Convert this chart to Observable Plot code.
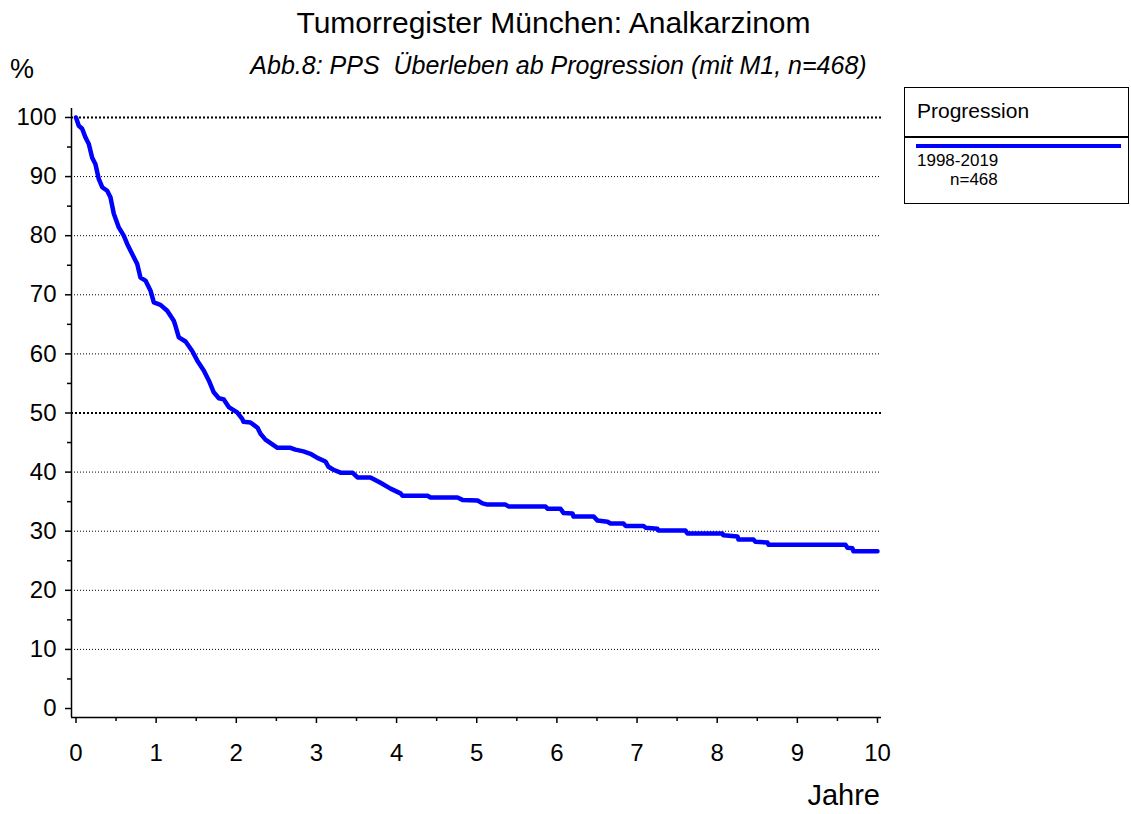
<!DOCTYPE html>
<html>
<head>
<meta charset="utf-8">
<script src="https://cdn.jsdelivr.net/npm/d3@7"></script>
<script src="https://cdn.jsdelivr.net/npm/@observablehq/plot@0.6"></script>
<style>
  html, body { margin: 0; padding: 0; background: #fff; }
  #wrap { position: relative; width: 1131px; height: 814px; font-family: "Liberation Sans", Arial, sans-serif; color: #000; overflow: hidden; }
  #wrap svg { position: absolute; left: 0; top: 0; }
  .t { position: absolute; white-space: pre; line-height: 1; }
  #legend { position: absolute; left: 904px; top: 87px; width: 225px; height: 117px; border: 1.5px solid #000; box-sizing: border-box; }
</style>
</head>
<body>
<div id="wrap"></div>
<script>
// Kaplan-Meier curve (years since progression, % surviving)
const years = [0, 0.035, 0.077, 0.119, 0.16, 0.202, 0.243, 0.284, 0.327, 0.389, 0.43, 0.472, 0.534, 0.596, 0.639, 0.701, 0.764, 0.805, 0.867, 0.93, 0.971, 1.054, 1.138, 1.22, 1.24, 1.283, 1.367, 1.45, 1.512, 1.594, 1.657, 1.719, 1.782, 1.844, 1.906, 2.011, 2.074, 2.09, 2.177, 2.265, 2.302, 2.364, 2.514, 2.676, 2.738, 2.838, 2.925, 3.012, 3.112, 3.15, 3.212, 3.3, 3.45, 3.512, 3.674, 3.799, 3.924, 4.049, 4.074, 4.386, 4.423, 4.76, 4.822, 5.01, 5.072, 5.134, 5.359, 5.396, 5.858, 5.883, 6.045, 6.082, 6.195, 6.207, 6.457, 6.507, 6.632, 6.669, 6.831, 6.856, 7.081, 7.106, 7.255, 7.268, 7.604, 7.629, 8.066, 8.078, 8.253, 8.265, 8.452, 8.477, 8.627, 8.64, 9.6, 9.625, 9.688, 9.7, 10];
const survival = [100, 98.6, 98.1, 96.6, 95.5, 93.2, 92.1, 89.6, 88.2, 87.6, 86.5, 83.7, 81.4, 80.0, 78.6, 76.9, 75.2, 72.9, 72.4, 70.7, 68.7, 68.3, 67.3, 65.6, 64.8, 62.8, 62.1, 60.5, 58.9, 57.2, 55.5, 53.5, 52.5, 52.3, 51.0, 50.1, 49.0, 48.5, 48.4, 47.5, 46.5, 45.5, 44.1, 44.1, 43.8, 43.5, 43.1, 42.4, 41.8, 40.9, 40.4, 39.9, 39.9, 39.1, 39.1, 38.2, 37.2, 36.4, 36.0, 36.0, 35.7, 35.7, 35.3, 35.2, 34.7, 34.5, 34.5, 34.2, 34.2, 33.8, 33.8, 33.1, 33.0, 32.5, 32.5, 31.8, 31.6, 31.3, 31.3, 30.9, 30.9, 30.6, 30.4, 30.1, 30.1, 29.6, 29.6, 29.3, 29.1, 28.6, 28.6, 28.2, 28.1, 27.7, 27.7, 27.2, 27.1, 26.6, 26.6];

const xTicks = [0, 1, 2, 3, 4, 5, 6, 7, 8, 9, 10];
const xMinorTicks = [0.5, 1.5, 2.5, 3.5, 4.5, 5.5, 6.5, 7.5, 8.5, 9.5];
const yTicks = [0, 10, 20, 30, 40, 50, 60, 70, 80, 90, 100];
const yMinorTicks = [5, 15, 25, 35, 45, 55, 65, 75, 85, 95];
const gridThin = [10, 20, 30, 40, 60, 70, 80, 90];
const gridBold = [50, 100];

const titleText = "Tumorregister München: Analkarzinom";
const subtitleText = "Abb.8: PPS  Überleben ab Progression (mit M1, n=468)";
const yLabel = "%";
const xLabel = "Jahre";
const legendTitle = "Progression";
const seriesName = "1998-2019";
const seriesN = "n=468";

const xDomain = [-0.056, 10.05];
const yDomain = [-1.52, 101.52];

const data = years.map((t, i) => ({t, s: survival[i]}));

const chart = Plot.plot({
  width: 1131,
  height: 814,
  marginLeft: 71,
  marginRight: 250,
  marginTop: 108,
  marginBottom: 97,
  x: {domain: xDomain},
  y: {domain: yDomain},
  style: {fontFamily: "'Liberation Sans', Arial, sans-serif", fontSize: "24px", color: "#000", background: "transparent", overflow: "visible"},
  marks: [
    Plot.ruleY(gridThin, {x1: () => xDomain[0], x2: () => xDomain[1], stroke: "#000", strokeWidth: 1, strokeDasharray: "1,2"}),
    Plot.ruleY(gridBold, {x1: () => xDomain[0], x2: () => xDomain[1], stroke: "#000", strokeWidth: 2, strokeDasharray: "2,2"}),
    Plot.axisY({ticks: yTicks, tickSize: 6, tickPadding: 9, fontSize: 24, label: null, tickFormat: d => String(d), strokeWidth: 1.5}),
    Plot.axisY({ticks: yMinorTicks, tickSize: 4, tickFormat: () => "", label: null, strokeWidth: 1.5}),
    Plot.axisX({ticks: xTicks, tickSize: 6, tickPadding: 20, fontSize: 24, label: null, tickFormat: d => String(d), strokeWidth: 1.5}),
    Plot.axisX({ticks: xMinorTicks, tickSize: 4, tickFormat: () => "", label: null, strokeWidth: 1.5}),
    Plot.ruleX([xDomain[0]], {y1: () => yDomain[0], y2: () => yDomain[1], stroke: "#000", strokeWidth: 1.5}),
    Plot.ruleY([yDomain[0]], {x1: () => xDomain[0], x2: () => xDomain[1], stroke: "#000", strokeWidth: 1.5}),
    Plot.line(data, {x: "t", y: "s", stroke: "#0000ff", strokeWidth: 4.5, strokeLinejoin: "round", strokeLinecap: "round"})
  ]
});

const wrap = document.getElementById("wrap");
wrap.appendChild(chart);

function addText(txt, css) {
  const el = document.createElement("div");
  el.className = "t";
  el.textContent = txt;
  Object.assign(el.style, css);
  wrap.appendChild(el);
  return el;
}
// baseline ≈ top + 0.85 * fontSize with line-height 1
addText(titleText, {left: "0px", width: "1107px", textAlign: "center", top: "8px", fontSize: "30px"});
addText(subtitleText, {left: "0px", width: "1117px", textAlign: "center", top: "53px", fontSize: "25px", fontStyle: "italic"});
addText(yLabel, {left: "10px", top: "56px", fontSize: "27px"});
addText(xLabel, {right: "251px", top: "781px", fontSize: "29px"});

const legend = document.createElement("div");
legend.id = "legend";
wrap.appendChild(legend);
addText(legendTitle, {left: "917px", top: "100px", fontSize: "21px"});
const divider = document.createElement("div");
Object.assign(divider.style, {position: "absolute", left: "904px", top: "136px", width: "225px", height: "1.5px", background: "#000"});
wrap.appendChild(divider);
const swatch = document.createElement("div");
Object.assign(swatch.style, {position: "absolute", left: "916px", top: "144px", width: "205px", height: "4px", background: "#0000ff"});
wrap.appendChild(swatch);
addText(seriesName, {left: "917px", top: "152px", fontSize: "17px"});
addText(seriesN, {left: "950px", top: "171px", fontSize: "17px"});
</script>
</body>
</html>
